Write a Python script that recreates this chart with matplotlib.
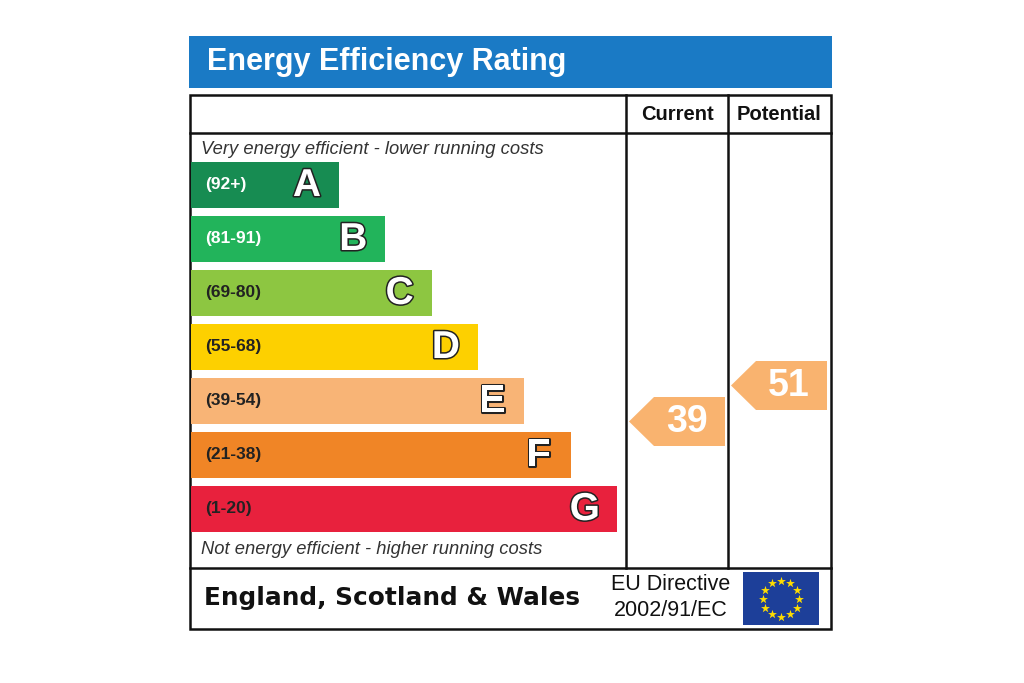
import numpy as np
import matplotlib.pyplot as plt
import matplotlib.patheffects as pe
from matplotlib.patches import Rectangle, Polygon

# rating bands
bands = ['A', 'B', 'C', 'D', 'E', 'F', 'G']
ranges = ['(92+)', '(81-91)', '(69-80)', '(55-68)', '(39-54)', '(21-38)', '(1-20)']
band_colors = ['#178c52', '#22b45b', '#8dc641', '#fdd000', '#f8b476', '#f08526', '#e8213d']
range_text_colors = ['white', 'white', '#222222', '#222222', '#222222', '#222222', '#222222']

current = 39
potential = 51
arrow_color = '#f9b36f'

title = 'Energy Efficiency Rating'
top_note = 'Very energy efficient - lower running costs'
bottom_note = 'Not energy efficient - higher running costs'
region = 'England, Scotland & Wales'
directive = ['EU Directive', '2002/91/EC']

W, H = 1024, 683
fig = plt.figure(figsize=(W / 100, H / 100), dpi=100)
ax = fig.add_axes([0, 0, 1, 1])
ax.set_xlim(0, W)
ax.set_ylim(H, 0)
ax.axis('off')

SANS = 'Liberation Sans'

# header
ax.add_patch(Rectangle((189, 36), 643, 52, color='#1a7ac5', lw=0))
ax.text(207, 62, title, color='white', fontsize=22, fontweight='bold',
        family=SANS, va='center', ha='left')

# frame
lw = 1.8
ax.add_patch(Rectangle((190, 95), 641, 534, fill=False, ec='#111111', lw=lw))
ax.plot([190, 831], [133, 133], color='#111111', lw=lw)
ax.plot([190, 831], [568, 568], color='#111111', lw=lw)
for xc in (626, 728):
    ax.plot([xc, xc], [95, 568], color='#111111', lw=lw)

ax.text(677, 114, 'Current', fontsize=14.5, fontweight='bold', family=SANS,
        ha='center', va='center', color='#111111')
ax.text(779, 114, 'Potential', fontsize=14.5, fontweight='bold', family=SANS,
        ha='center', va='center', color='#111111')

ax.text(201, 149, top_note, fontsize=13.2, style='italic', family=SANS,
        ha='left', va='center', color='#333333')
ax.text(201, 550, bottom_note, fontsize=13.2, style='italic', family=SANS,
        ha='left', va='center', color='#333333')

# bars
y0, step, bh = 162, 54, 46
for i, b in enumerate(bands):
    y = y0 + i * step
    w = 148 + i * 46.3
    ax.add_patch(Rectangle((191, y), w, bh, color=band_colors[i], lw=0))
    ax.text(205, y + bh / 2, ranges[i], fontsize=12.5, fontweight='bold',
            family=SANS, color=range_text_colors[i], ha='left', va='center')
    t = ax.text(191 + w - 32, y + bh / 2 + 1, b, fontsize=28, fontweight='bold',
                family=SANS, color='white', ha='center', va='center')
    t.set_path_effects([pe.Stroke(linewidth=2.2, foreground='#222222'), pe.Normal()])


def val_to_y(v):
    # vertical position of the pointer for a rating value
    return 421.5 + (39 - v) * 3.0


def pointer(xl, xr, v):
    yc = val_to_y(v)
    h = 49
    pts = [(xl, yc), (xl + 25, yc - h / 2), (xr, yc - h / 2),
           (xr, yc + h / 2), (xl + 25, yc + h / 2)]
    ax.add_patch(Polygon(pts, closed=True, color=arrow_color, lw=0))
    ax.text((xl + 25 + xr) / 2 - 2.5, yc + 1, str(v), fontsize=27, fontweight='bold',
            family=SANS, color='white', ha='center', va='center')


pointer(629, 725, current)
pointer(731, 827, potential)

# footer
ax.text(204, 598, region, fontsize=17.8, fontweight='bold', family='DejaVu Sans',
        ha='left', va='center', color='#111111')
ax.text(671, 585, directive[0], fontsize=15.5, family=SANS, ha='center',
        va='center', color='#111111')
ax.text(671, 611, directive[1], fontsize=15.5, family=SANS, ha='center',
        va='center', color='#111111')

# EU flag
ax.add_patch(Rectangle((743, 572), 76, 53, color='#1d3f99', lw=0))
ang = np.linspace(0, 2 * np.pi, 12, endpoint=False)
ax.scatter(781 + 18 * np.cos(ang), 598.5 + 18 * np.sin(ang), marker='*',
           s=45, color='#ffdd00', lw=0, zorder=5)

fig.savefig('out.png', dpi=100, facecolor='white')
